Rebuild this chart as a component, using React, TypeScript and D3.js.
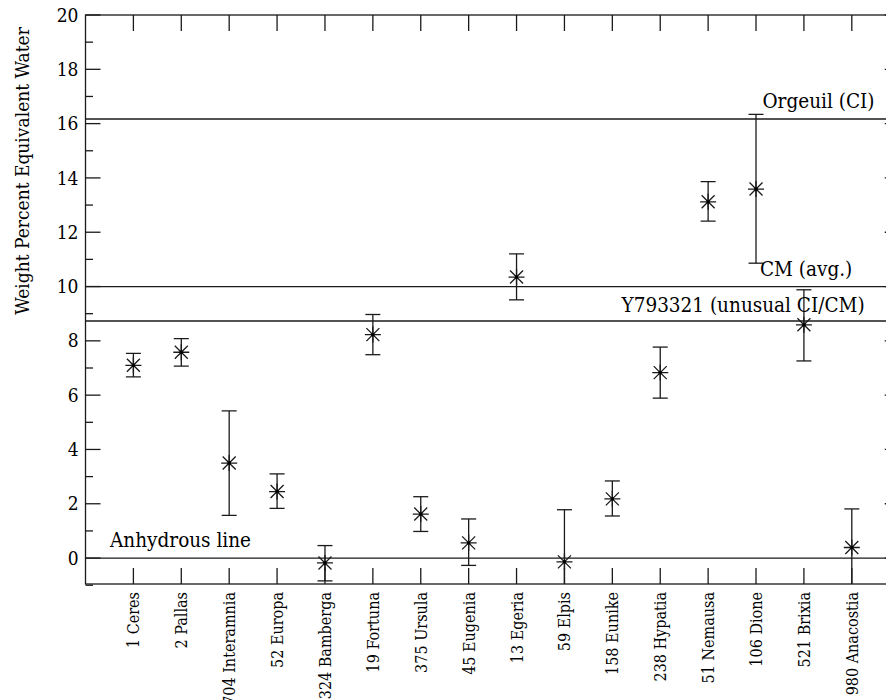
import { useEffect, useRef } from "react";
import * as d3 from "d3";

// asteroid names along the x axis
const asteroids = [
  "1 Ceres", "2 Pallas", "704 Interamnia", "52 Europa", "324 Bamberga",
  "19 Fortuna", "375 Ursula", "45 Eugenia", "13 Egeria", "59 Elpis",
  "158 Eunike", "238 Hypatia", "51 Nemausa", "106 Dione", "521 Brixia",
  "980 Anacostia",
];
// weight percent equivalent water
const water = [7.1, 7.58, 3.5, 2.45, -0.18, 8.23, 1.62, 0.56, 10.35, -0.14, 2.18, 6.83, 13.12, 13.59, 8.59, 0.39];
const errUp = [0.44, 0.5, 1.92, 0.65, 0.64, 0.74, 0.64, 0.88, 0.85, 1.92, 0.66, 0.94, 0.74, 2.75, 1.29, 1.42];
const errDown = [0.43, 0.51, 1.93, 0.62, 0.66, 0.74, 0.64, 0.83, 0.84, 1.92, 0.63, 0.94, 0.71, 2.73, 1.33, 1.42];

// horizontal reference lines
const refNames = ["Orgeuil (CI)", "CM (avg.)", "Y793321 (unusual CI/CM)", "Anhydrous line"];
const refValues = [16.17, 10.0, 8.73, 0];

const yTicks = [0, 2, 4, 6, 8, 10, 12, 14, 16, 18, 20];
const yMinor = [-1, 1, 3, 5, 7, 9, 11, 13, 15, 17, 19];

const FONT = "'DejaVu Serif Condensed', 'DejaVu Serif', serif";

export default function App() {
  const ref = useRef<SVGSVGElement>(null);

  useEffect(() => {
    const width = 886;
    const height = 700;
    const left = 85.5;
    const top = 15;
    const bottom = 584;
    const right = 899.7;

    const svg = d3.select(ref.current);
    svg.selectAll("*").remove();
    svg.attr("width", width).attr("height", height);

    const x = d3.scaleLinear([0, asteroids.length + 1], [left, right]);
    const y = d3.scaleLinear([-0.955, 20], [bottom, top]);

    svg.append("clipPath").attr("id", "plot-clip")
      .append("rect")
      .attr("x", left).attr("y", top)
      .attr("width", right - left).attr("height", bottom - top);

    const stroke = "#1a1a1a";
    const sw = 1.3;

    // reference lines
    const plot = svg.append("g").attr("clip-path", "url(#plot-clip)");
    plot.selectAll("line.ref")
      .data(refValues)
      .join("line")
      .attr("x1", left).attr("x2", right)
      .attr("y1", d => y(d)).attr("y2", d => y(d))
      .attr("stroke", stroke).attr("stroke-width", sw);

    // error bars
    const cap = 7.5;
    const pts = plot.selectAll("g.pt")
      .data(asteroids)
      .join("g")
      .attr("transform", (_, i) => `translate(${x(i + 1)},0)`)
      .attr("stroke", stroke).attr("stroke-width", sw);

    pts.append("line")
      .attr("y1", (_, i) => y(water[i] + errUp[i]))
      .attr("y2", (_, i) => y(water[i] - errDown[i]));
    pts.append("line")
      .attr("x1", -cap).attr("x2", cap)
      .attr("y1", (_, i) => y(water[i] + errUp[i]))
      .attr("y2", (_, i) => y(water[i] + errUp[i]));
    pts.append("line")
      .attr("x1", -cap).attr("x2", cap)
      .attr("y1", (_, i) => y(water[i] - errDown[i]))
      .attr("y2", (_, i) => y(water[i] - errDown[i]));

    // star symbols
    const s = 8;
    const d = 6.5;
    pts.append("path")
      .attr("fill", "none")
      .attr("d", (_, i) => {
        const cy = y(water[i]);
        return `M${-s},${cy}H${s}M0,${cy - s}V${cy + s}` +
          `M${-d},${cy - d}L${d},${cy + d}M${-d},${cy + d}L${d},${cy - d}`;
      });
    pts.append("rect")
      .attr("stroke", "none").attr("fill", "#000")
      .attr("x", -1.5).attr("width", 3).attr("height", 3)
      .attr("y", (_, i) => y(water[i]) - 1.5);

    // frame
    svg.append("rect")
      .attr("x", left).attr("y", top)
      .attr("width", right - left).attr("height", bottom - top)
      .attr("fill", "none").attr("stroke", stroke).attr("stroke-width", sw);

    const ticks = svg.append("g").attr("stroke", stroke).attr("stroke-width", sw);
    // x ticks, top and bottom, pointing inward
    const xt = d3.range(1, asteroids.length + 1);
    ticks.append("g").selectAll("line").data(xt).join("line")
      .attr("x1", d => x(d)).attr("x2", d => x(d))
      .attr("y1", bottom).attr("y2", bottom - 16);
    ticks.append("g").selectAll("line").data(xt).join("line")
      .attr("x1", d => x(d)).attr("x2", d => x(d))
      .attr("y1", top).attr("y2", top + 16);

    // y ticks left and right
    ticks.append("g").selectAll("line").data(yTicks).join("line")
      .attr("x1", left).attr("x2", left + 15)
      .attr("y1", t => y(t)).attr("y2", t => y(t));
    ticks.append("g").selectAll("line").data(yMinor).join("line")
      .attr("x1", left).attr("x2", left + 7.5)
      .attr("y1", t => y(t)).attr("y2", t => y(t));
    ticks.append("g").selectAll("line").data(yTicks).join("line")
      .attr("x1", right).attr("x2", right - 15)
      .attr("y1", t => y(t)).attr("y2", t => y(t));
    ticks.append("g").selectAll("line").data(yMinor).join("line")
      .attr("x1", right).attr("x2", right - 7.5)
      .attr("y1", t => y(t)).attr("y2", t => y(t));

    const txt = svg.append("g").attr("fill", "#000").style("font-family", FONT);

    // y tick labels
    txt.append("g")
      .selectAll("text").data(yTicks).join("text")
      .attr("x", left - 7).attr("y", t => y(t)).attr("dy", "0.35em")
      .attr("text-anchor", "end").attr("font-size", 19)
      .text(t => t);

    // y axis title
    txt.append("text")
      .attr("transform", `translate(28.5,171) rotate(-90)`)
      .attr("text-anchor", "middle").attr("font-size", 19)
      .text("Weight Percent Equivalent Water");

    // x category labels
    txt.append("g")
      .selectAll("text").data(asteroids).join("text")
      .attr("transform", (_, i) => `translate(${x(i + 1) + 6},592) rotate(-90)`)
      .attr("text-anchor", "end").attr("font-size", 16)
      .text(n => n);

    // reference line labels
    const labelPos = [[762.5, 108], [760, 275.5], [621.5, 311.5], [110, 546.5]];
    txt.append("g")
      .selectAll("text").data(refNames).join("text")
      .attr("x", (_, i) => labelPos[i][0])
      .attr("y", (_, i) => labelPos[i][1])
      .attr("font-size", 20.5)
      .text(n => n);
  }, []);

  return (
    <svg
      ref={ref}
      style={{ position: "absolute", left: 0, top: 0, background: "#fff" }}
    />
  );
}
